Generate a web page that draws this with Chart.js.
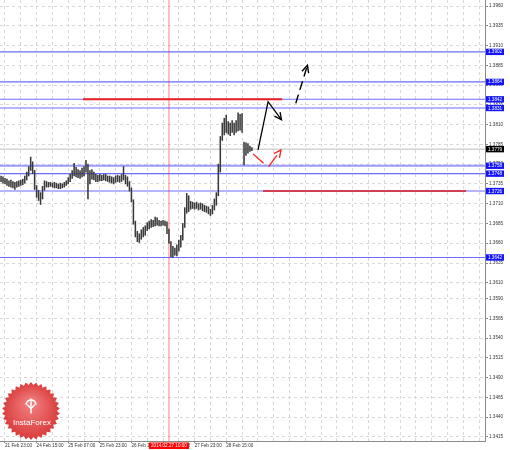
<!DOCTYPE html>
<html><head><meta charset="utf-8">
<script src="https://cdn.jsdelivr.net/npm/chart.js@4.4.1/dist/chart.umd.min.js"></script>
<style>html,body{margin:0;padding:0;background:#fff;}canvas{display:block;}</style>
</head><body>
<canvas id="c" width="510" height="450"></canvas>
<script>
// ---- data ----
const barHigh = [1.3745,1.3744,1.3742,1.3741,1.3739,1.3740,1.3738,1.3737,1.3738,1.3739,
1.3740,1.3741,1.3745,1.3750,1.3757,1.3769,1.3763,1.3752,1.3733,1.3727,
1.3724,1.3732,1.3739,1.3738,1.3737,1.3737,1.3736,1.3737,1.3736,1.3735,
1.3736,1.3735,1.3737,1.3739,1.3743,1.3747,1.3752,1.3761,1.3756,1.3753,
1.3752,1.3755,1.3757,1.3765,1.3760,1.3752,1.3753,1.3750,1.3747,1.3746,
1.3747,1.3746,1.3747,1.3747,1.3745,1.3745,1.3744,1.3743,1.3745,1.3746,
1.3745,1.3747,1.3757,1.3746,1.3744,1.3738,1.3730,1.3715,1.3688,1.3675,
1.3672,1.3677,1.3680,1.3682,1.3686,1.3688,1.3690,1.3689,1.3693,1.3692,
1.3689,1.3688,1.3689,1.3688,1.3687,1.3678,1.3662,1.3656,1.3654,1.3658,
1.3664,1.3670,1.3685,1.3705,1.3723,1.3720,1.3713,1.3712,1.3711,1.3712,
1.3710,1.3711,1.3710,1.3708,1.3707,1.3706,1.3703,1.3708,1.3716,1.3724,
1.3760,1.3795,1.3812,1.3818,1.3822,1.3814,1.3812,1.3815,1.3812,1.3815,
1.3825,1.3823,1.3824,1.3788,1.3787,1.3786,1.3783,1.3781];
const barLow = [1.3738,1.3736,1.3735,1.3733,1.3732,1.3731,1.3730,1.3728,1.3731,1.3732,
1.3733,1.3734,1.3736,1.3740,1.3745,1.3752,1.3748,1.3728,1.3718,1.3714,
1.3709,1.3716,1.3727,1.3731,1.3731,1.3732,1.3731,1.3730,1.3730,1.3729,
1.3729,1.3730,1.3731,1.3733,1.3735,1.3738,1.3742,1.3745,1.3744,1.3743,
1.3742,1.3744,1.3745,1.3750,1.3716,1.3735,1.3741,1.3740,1.3738,1.3738,
1.3739,1.3739,1.3740,1.3739,1.3738,1.3737,1.3736,1.3735,1.3737,1.3738,
1.3737,1.3738,1.3740,1.3735,1.3732,1.3726,1.3712,1.3684,1.3668,1.3662,
1.3661,1.3665,1.3668,1.3670,1.3676,1.3678,1.3680,1.3681,1.3682,1.3683,
1.3682,1.3682,1.3683,1.3682,1.3672,1.3660,1.3643,1.3642,1.3645,1.3644,
1.3650,1.3655,1.3664,1.3680,1.3698,1.3700,1.3703,1.3704,1.3703,1.3704,
1.3702,1.3703,1.3701,1.3700,1.3699,1.3697,1.3695,1.3697,1.3702,1.3708,
1.3720,1.3750,1.3790,1.3797,1.3800,1.3798,1.3796,1.3800,1.3797,1.3800,
1.3802,1.3803,1.3800,1.3759,1.3771,1.3774,1.3776,1.3777];

const xTickIndex = [2,18,34,50,66,82,98,114];
const xTickLabels = ['21 Feb 23:00','24 Feb 15:00','25 Feb 07:00','25 Feb 23:00','26 Feb 15:00','27 Feb 07:00','27 Feb 23:00','28 Feb 15:00'];
const yTickLabels = [1.3960,1.3935,1.3910,1.3885,1.3860,1.3835,1.3810,1.3785,1.3760,1.3735,1.3710,1.3685,1.3660,1.3635,1.3610,1.3590,1.3565,1.3540,1.3515,1.3490,1.3465,1.3440,1.3415];

const levelValues = [1.3902,1.3864,1.3842,1.3831,1.3758,1.3748,1.3726,1.3642];
const currentPrice = 1.3779;
const markerIndex = 85;
const markerLabel = '2014.02.27 10:00';

const resistX = [41.5,142.3]; const resistY = 1.3842;
const supportX = [132.6,235.4]; const supportY = 1.3726;

const arrowUpX = [130.1,135.2,142.0];   const arrowUpY = [1.3778,1.3839,1.3816];
const arrowDashX = [149.2,155.1];       const arrowDashY = [1.3837,1.3885];
const arrowRedX = [127.6,135.2,141.7];  const arrowRedY = [1.3773,1.3756,1.3778];

// ---- chart ----
const X_MIN = -0.53, X_MAX = 245.0, Y_MIN = 1.34099, Y_MAX = 1.39676;
const pts = (xs, ys) => xs.map((x,k)=>({x, y: Array.isArray(ys)? ys[k] : ys}));
const hline = (v) => [{x:X_MIN,y:v},{x:X_MAX,y:v}];
const FONT = {family:'"Liberation Sans", Arial, sans-serif', size:4.6};

const datasets = [];
datasets.push({type:'line', data:pts(arrowUpX,arrowUpY), borderColor:'#000', borderWidth:1.3, pointRadius:0, tension:0, fill:false, arrowHead:true, order:0});
datasets.push({type:'line', data:pts(arrowDashX,arrowDashY), borderColor:'#000', borderWidth:1.4, borderDash:[9,5], pointRadius:0, tension:0, fill:false, arrowHead:true, order:0});
datasets.push({type:'line', data:pts(arrowRedX,arrowRedY), borderColor:'#ff2020', borderWidth:1.3, borderDash:[14,7], pointRadius:0, tension:0, fill:false, arrowHead:true, order:0});
datasets.push({type:'bar', data:barHigh.map((h,i)=>({x:i, y:[barLow[i], h]})), backgroundColor:'#3a3a3a', borderWidth:0, barThickness:0.9, grouped:false, order:1});
datasets.push({type:'line', data:pts(resistX,resistY), borderColor:'#e82020', borderWidth:2, pointRadius:0, fill:false, order:2});
datasets.push({type:'line', data:pts(supportX,supportY), borderColor:'#d81818', borderWidth:1.5, pointRadius:0, fill:false, order:2});
levelValues.forEach(v=>{
  datasets.push({type:'line', data:hline(v), borderColor: v===1.3758?'rgba(120,120,255,0.75)':'rgba(70,70,255,0.8)', borderWidth: v===1.3758?2:1.1, pointRadius:0, fill:false, order:3});
});
datasets.push({type:'line', data:hline(currentPrice), borderColor:'#bdbdbd', borderWidth:1, pointRadius:0, fill:false, order:4});
datasets.push({type:'line', data:[{x:markerIndex,y:Y_MIN},{x:markerIndex,y:Y_MAX}], borderColor:'rgba(255,90,90,0.75)', borderWidth:1, pointRadius:0, fill:false, order:4});

function drawLogo(ctx){
  const cx=31, cy=411, R=29, r=26, n=34;
  ctx.save();
  ctx.beginPath();
  for(let k=0;k<2*n;k++){const a=k*Math.PI/n-Math.PI/2; const rr=k%2?r:R; ctx.lineTo(cx+rr*Math.cos(a), cy+rr*Math.sin(a));}
  ctx.closePath();
  const g=ctx.createRadialGradient(cx,cy-8,2,cx,cy,R);
  g.addColorStop(0,'#f27f7f'); g.addColorStop(1,'#d93b3b');
  ctx.fillStyle=g; ctx.fill();
  ctx.strokeStyle='#fff'; ctx.fillStyle='#fff'; ctx.lineWidth=1.5; ctx.lineCap='round';
  ctx.beginPath(); ctx.arc(cx,cy-6,5,Math.PI*1.05,Math.PI*1.95); ctx.stroke();
  ctx.beginPath(); ctx.moveTo(cx,cy-9); ctx.lineTo(cx,cy+2); ctx.stroke();
  ctx.beginPath(); ctx.moveTo(cx-3.5,cy-6); ctx.lineTo(cx,cy-2.5); ctx.lineTo(cx+3.5,cy-6); ctx.stroke();
  ctx.beginPath(); ctx.arc(cx,cy-11,1.4,0,Math.PI*2); ctx.fill();
  ctx.font='8px "Liberation Sans", Arial, sans-serif'; ctx.textAlign='center'; ctx.textBaseline='alphabetic';
  ctx.fillText('InstaForex', cx+1, cy+14);
  ctx.restore();
}

const overlay = {
  id:'overlay',
  beforeDatasetsDraw(chart){ drawLogo(chart.ctx); },
  afterDatasetsDraw(chart){
    const ctx=chart.ctx;
    chart.data.datasets.forEach((ds,idx)=>{
      if(!ds.arrowHead) return;
      const els=chart.getDatasetMeta(idx).data; const n=els.length;
      const a=els[n-2], b=els[n-1];
      const ang=Math.atan2(b.y-a.y,b.x-a.x), L=8, sp=0.45;
      ctx.save(); ctx.setLineDash([]); ctx.strokeStyle=ds.borderColor; ctx.lineWidth=ds.borderWidth;
      ctx.beginPath();
      ctx.moveTo(b.x-L*Math.cos(ang-sp), b.y-L*Math.sin(ang-sp)); ctx.lineTo(b.x,b.y);
      ctx.lineTo(b.x-L*Math.cos(ang+sp), b.y-L*Math.sin(ang+sp));
      ctx.stroke(); ctx.restore();
    });
  },
  afterDraw(chart){
    const ctx=chart.ctx, ys=chart.scales.y, xs=chart.scales.x;
    ctx.save();
    ctx.font='4.6px "Liberation Sans", Arial, sans-serif'; ctx.textBaseline='middle';
    const box=(v,col)=>{const y=ys.getPixelForValue(v); ctx.fillStyle=col; ctx.fillRect(486,y-3.2,18,6.4); ctx.fillStyle='#fff'; ctx.textAlign='left'; ctx.fillText(v.toFixed(4),488,y+0.3);};
    levelValues.forEach(v=>box(v,'#1414ff'));
    box(currentPrice,'#000');
    const mx=xs.getPixelForValue(markerIndex);
    ctx.fillStyle='#ff0000'; ctx.fillRect(mx-20,442.5,40,6.5);
    ctx.fillStyle='#fff'; ctx.textAlign='center'; ctx.fillText(markerLabel,mx,446);
    ctx.restore();
  }
};

const gridTicks=[]; for(let v=2; v<=X_MAX; v+=8) gridTicks.push(v);

new Chart(document.getElementById('c'),{
  data:{datasets},
  options:{
    responsive:false, animation:false, devicePixelRatio:1,
    layout:{padding:0},
    plugins:{legend:{display:false}, tooltip:{enabled:false}},
    scales:{
      x:{type:'linear', min:X_MIN, max:X_MAX, offset:false,
        afterBuildTicks:s=>{s.ticks=gridTicks.map(v=>({value:v}));},
        afterFit:s=>{s.height=9; s.paddingLeft=0; s.paddingRight=0;},
        grid:{offset:false, color:'#d8d8d8', lineWidth:1, tickLength:2, tickColor:c=>xTickIndex.includes(c.tick&&c.tick.value)?'#888':'rgba(0,0,0,0)', tickBorderDash:[]},
        border:{color:'#8a8a8a', width:1, dash:[3,3]},
        ticks:{autoSkip:false, maxRotation:0, minRotation:0, align:'start', padding:0, color:'#333', font:FONT,
          callback:v=>{const k=xTickIndex.indexOf(v); return k>=0?xTickLabels[k]:'';}}
      },
      y:{type:'linear', position:'right', min:Y_MIN, max:Y_MAX,
        afterBuildTicks:s=>{s.ticks=yTickLabels.map(v=>({value:v}));},
        afterFit:s=>{s.width=25; s.paddingTop=0; s.paddingBottom=0;},
        grid:{color:'#d8d8d8', lineWidth:1, tickLength:3, tickColor:'#888', tickBorderDash:[]},
        border:{color:'#8a8a8a', width:1, dash:[3,3]},
        ticks:{padding:1, color:'#333', font:FONT, callback:v=>Number(v).toFixed(4)}
      }
    }
  },
  plugins:[overlay]
});
</script>
</body></html>
